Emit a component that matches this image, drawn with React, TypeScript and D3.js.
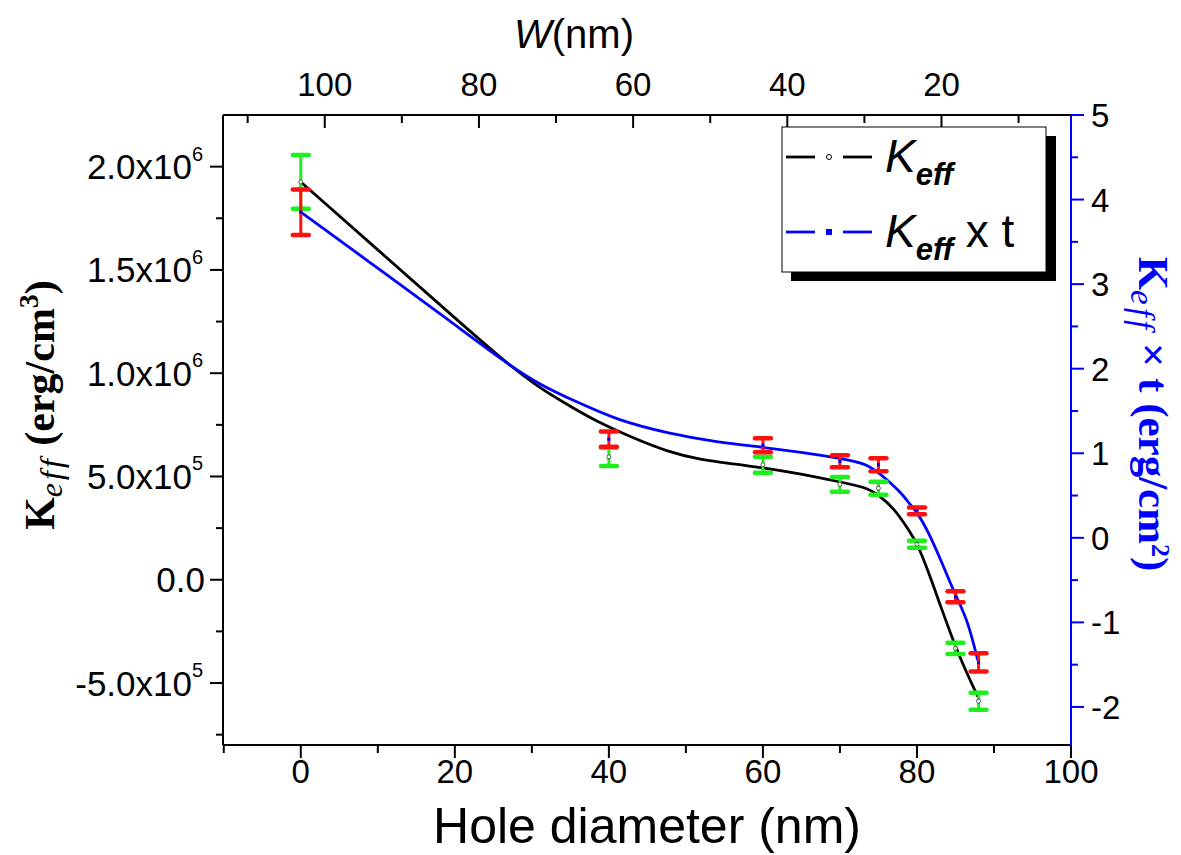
import React from 'react';
import * as d3 from 'd3';

// ---- data ----
const holeDiameter = [0, 40, 60, 70, 75, 80, 85, 88];
const keff = [1.926e6, 5.95e5, 5.57e5, 4.62e5, 4.43e5, 1.72e5, -3.32e5, -5.88e5];
const keffErr = [1.3e5, 4.4e4, 3.9e4, 3.6e4, 3.1e4, 1.7e4, 2.7e4, 4.1e4];
const keffT = [3.85, 1.166, 1.095, 0.905, 0.864, 0.32, -0.698, -1.473];
const keffTErr = [0.27, 0.09, 0.083, 0.07, 0.077, 0.04, 0.065, 0.107];

// smooth fitted curves
const keffFitX = [0, 10, 20, 26.5, 31, 34, 38, 42.8, 47.6, 51.9, 56.2, 60, 64.9, 70, 73.6, 75, 77, 79.2, 80.1, 81.4, 83.1, 84.8, 86.1, 87.9];
const keffFitY = [1.926e6, 1.597e6, 1.268e6, 1.055e6, 0.929e6, 0.862e6, 0.774e6, 0.692e6, 0.62e6, 0.581e6, 0.561e6, 0.542e6, 0.513e6, 0.474e6, 0.445e6, 0.411e6, 0.348e6, 0.227e6, 0.169e6, 0.048e6, -0.131e6, -0.305e6, -0.421e6, -0.566e6];
const keffTFitX = [0, 11.6, 19.4, 26.5, 31.1, 35.9, 41.1, 47.6, 54.1, 60, 64.9, 70, 73.6, 76.2, 77.9, 79.2, 80, 81.4, 83.5, 85, 86.6, 87.9];
const keffTFitY = [3.852, 3.083, 2.562, 2.077, 1.805, 1.604, 1.391, 1.237, 1.13, 1.071, 1.012, 0.941, 0.882, 0.68, 0.538, 0.385, 0.302, 0.089, -0.349, -0.68, -0.976, -1.45];

const xTicks = [0, 20, 40, 60, 80, 100];
const xMinor = [-10, 10, 30, 50, 70, 90];
const yLTicks = [-5e5, 0, 5e5, 1e6, 1.5e6, 2e6];
const yLTickLabels = [['-5.0x10', '5'], ['0.0', ''], ['5.0x10', '5'], ['1.0x10', '6'], ['1.5x10', '6'], ['2.0x10', '6']];
const yLMinor = [-7.5e5, -2.5e5, 2.5e5, 7.5e5, 1.25e6, 1.75e6];
const yRTicks = [-2, -1, 0, 1, 2, 3, 4, 5];
const yRMinor = [-1.5, -0.5, 0.5, 1.5, 2.5, 3.5, 4.5];
const wTicks = [100, 80, 60, 40, 20];
const wMinor = [110, 90, 70, 50, 30, 10];

const L = 223, R = 1071, T = 115, B = 745;
const SANS = "'Liberation Sans', Arial, Helvetica, sans-serif";
const SERIF = "'Liberation Serif', 'DejaVu Serif', serif";
const GREEN = '#1ef01e';
const RED = '#ff1010';
const BLUE = '#0000ff';

export default function App() {
  const x = d3.scaleLinear().domain([-10.1, 100]).range([L, R]);
  const yL = d3.scaleLinear().domain([-8.0e5, 2.25e6]).range([B, T]);
  const yR = d3.scaleLinear().domain([-2.45, 5]).range([B, T]);
  const xW = d3.scaleLinear().domain([113.2, 3.2]).range([L, R]);

  const lineL = d3.line<number>().x((_, i) => x(keffFitX[i])).y((d) => yL(d)).curve(d3.curveBasis);
  const lineR = d3.line<number>().x((_, i) => x(keffTFitX[i])).y((d) => yR(d)).curve(d3.curveBasis);

  const cap = 8;
  const errBar = (cx: number, y1: number, y2: number, color: string, key: string) => (
    <g key={key} stroke={color} strokeLinecap="round">
      <line x1={cx} x2={cx} y1={y1} y2={y2} strokeWidth={3} />
      <line x1={cx - cap} x2={cx + cap} y1={y1} y2={y1} strokeWidth={4.5} />
      <line x1={cx - cap} x2={cx + cap} y1={y2} y2={y2} strokeWidth={4.5} />
    </g>
  );

  return (
    <svg width={1181} height={855} style={{ position: 'absolute', left: 0, top: 0, background: '#fff' }}>
      <rect x={0} y={0} width={1181} height={855} fill="#fff" />
      {/* curves */}
      <path d={lineL(keffFitY) || ''} fill="none" stroke="#000" strokeWidth={2.8} />
      <path d={lineR(keffTFitY) || ''} fill="none" stroke={BLUE} strokeWidth={2.8} />
      {/* error bars */}
      {holeDiameter.map((h, i) => errBar(x(h), yL(keff[i] + keffErr[i]), yL(keff[i] - keffErr[i]), GREEN, 'g' + i))}
      {holeDiameter.map((h, i) => errBar(x(h), yR(keffT[i] + keffTErr[i]), yR(keffT[i] - keffTErr[i]), RED, 'r' + i))}
      {/* markers */}
      {holeDiameter.map((h, i) => (
        <circle key={'c' + i} cx={x(h)} cy={yL(keff[i])} r={2} fill="#fff" stroke="#333" strokeWidth={0.8} />
      ))}
      {holeDiameter.map((h, i) => (
        <rect key={'s' + i} x={x(h) - 1.5} y={yR(keffT[i]) - 1.5} width={3} height={3} fill={BLUE} />
      ))}

      {/* frame */}
      <line x1={L} x2={R} y1={T} y2={T} stroke="#000" strokeWidth={2} />
      <line x1={L} x2={R} y1={B} y2={B} stroke="#000" strokeWidth={2} />
      <line x1={L} x2={L} y1={T} y2={B} stroke="#000" strokeWidth={2} />
      <line x1={R} x2={R} y1={T} y2={B} stroke={BLUE} strokeWidth={2} />

      {/* bottom axis */}
      {xTicks.map((t) => (
        <g key={'xt' + t}>
          <line x1={x(t)} x2={x(t)} y1={B} y2={B + 13} stroke="#000" strokeWidth={2} />
          <text x={x(t)} y={B + 38} textAnchor="middle" fontFamily={SANS} fontSize={33}>{t}</text>
        </g>
      ))}
      {xMinor.map((t) => (
        <line key={'xm' + t} x1={x(t)} x2={x(t)} y1={B} y2={B + 8} stroke="#000" strokeWidth={2} />
      ))}
      <text x={647} y={843} textAnchor="middle" fontFamily={SANS} fontSize={50}>Hole diameter (nm)</text>

      {/* top axis */}
      {wTicks.map((t) => (
        <g key={'wt' + t}>
          <line x1={xW(t)} x2={xW(t)} y1={T} y2={T + 13} stroke="#000" strokeWidth={2} />
          <text x={xW(t)} y={T - 19} textAnchor="middle" fontFamily={SANS} fontSize={33}>{t}</text>
        </g>
      ))}
      {wMinor.map((t) => (
        <line key={'wm' + t} x1={xW(t)} x2={xW(t)} y1={T} y2={T + 8} stroke="#000" strokeWidth={2} />
      ))}
      <text x={574} y={48} textAnchor="middle" fontFamily={SANS} fontSize={40}>
        <tspan fontStyle="italic">W</tspan>(nm)
      </text>

      {/* left axis */}
      {yLTicks.map((t, i) => (
        <g key={'yl' + t}>
          <line x1={L - 13} x2={L} y1={yL(t)} y2={yL(t)} stroke="#000" strokeWidth={2} />
          <text x={yLTickLabels[i][1] ? L - 31 : L - 18} y={yL(t) + 12.5} textAnchor="end" fontFamily={SANS} fontSize={35}>
            {yLTickLabels[i][0]}
          </text>
          {yLTickLabels[i][1] ? (
            <text x={L - 31} y={yL(t) - 6} textAnchor="start" fontFamily={SANS} fontSize={20}>{yLTickLabels[i][1]}</text>
          ) : null}
        </g>
      ))}
      {yLMinor.map((t) => (
        <line key={'ylm' + t} x1={L - 7} x2={L} y1={yL(t)} y2={yL(t)} stroke="#000" strokeWidth={2} />
      ))}
      <text transform="translate(54,405) rotate(-90)" textAnchor="middle" fontFamily={SERIF} fontWeight="bold" fontSize={42}>
        <tspan>K</tspan>
        <tspan fontStyle="italic" fontWeight="normal" fontSize={32} letterSpacing={3} dy={8}>eff</tspan>
        <tspan dy={-8}> (erg/cm</tspan>
        <tspan fontSize={28} dy={-16}>3</tspan>
        <tspan dy={16}>)</tspan>
      </text>

      {/* right axis */}
      {yRTicks.map((t) => (
        <g key={'yr' + t}>
          <line x1={R} x2={R + 13} y1={yR(t)} y2={yR(t)} stroke={BLUE} strokeWidth={2} />
          <text x={R + 20} y={yR(t) + 12} textAnchor="start" fontFamily={SANS} fontSize={33}>{t}</text>
        </g>
      ))}
      {yRMinor.map((t) => (
        <line key={'yrm' + t} x1={R} x2={R + 7} y1={yR(t)} y2={yR(t)} stroke={BLUE} strokeWidth={2} />
      ))}
      <text transform="translate(1139,414) rotate(90)" textAnchor="middle" fontFamily={SERIF} fontWeight="bold" fontSize={43} fill={BLUE}>
        <tspan>K</tspan>
        <tspan fontStyle="italic" fontWeight="normal" fontSize={33} letterSpacing={3} dy={8}>eff</tspan>
        <tspan dy={-8}> × t (erg/cm</tspan>
        <tspan fontSize={26} dy={-13}>2</tspan>
        <tspan dy={13}>)</tspan>
      </text>

      {/* legend */}
      <rect x={791} y={136} width={265} height={145} fill="#000" />
      <rect x={782} y={127} width={264} height={145} fill="#fff" stroke="#000" strokeWidth={1} />
      <line x1={786} x2={815} y1={157} y2={157} stroke="#000" strokeWidth={2.8} />
      <line x1={843} x2={872} y1={157} y2={157} stroke="#000" strokeWidth={2.8} />
      <circle cx={829} cy={157} r={2.5} fill="#fff" stroke="#000" strokeWidth={1} />
      <text x={885} y={172} fontFamily={SANS} fontSize={46} fontStyle="italic">K
        <tspan fontSize={31} fontWeight="bold" dy={13}>eff</tspan>
      </text>
      <line x1={786} x2={815} y1={232} y2={232} stroke={BLUE} strokeWidth={2.8} />
      <line x1={843} x2={872} y1={232} y2={232} stroke={BLUE} strokeWidth={2.8} />
      <rect x={826} y={229} width={6} height={6} fill={BLUE} />
      <text x={885} y={247} fontFamily={SANS} fontSize={46} fontStyle="italic">K
        <tspan fontSize={31} fontWeight="bold" dy={13}>eff</tspan>
        <tspan fontStyle="normal" fontSize={46} dy={-13}> x t</tspan>
      </text>
    </svg>
  );
}
